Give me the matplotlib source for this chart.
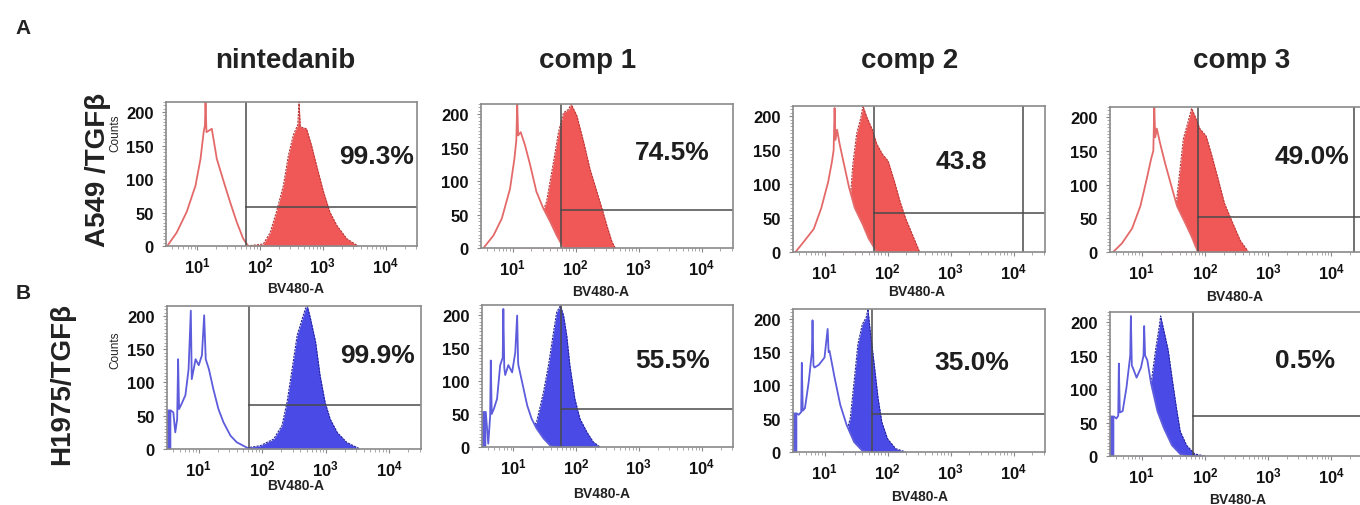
import numpy as np
import matplotlib
matplotlib.use("Agg")
import matplotlib.pyplot as plt
from matplotlib.ticker import FixedLocator, FixedFormatter, MultipleLocator, NullFormatter

plt.rcParams['font.family'] = ['Liberation Sans', 'DejaVu Sans']
plt.rcParams['mathtext.fontset'] = 'custom'
plt.rcParams['mathtext.rm'] = 'Liberation Sans:bold'
plt.rcParams['mathtext.bf'] = 'Liberation Sans:bold'
plt.rcParams['mathtext.it'] = 'Liberation Sans:bold'

# ---- data: (log10 BV480-A intensity, counts) ----
columns = ['nintedanib', 'comp 1', 'comp 2', 'comp 3']
rows = ['A549 /TGF\u03b2', 'H1975/TGF\u03b2']
percent_labels = [['99.3%', '74.5%', '43.8', '49.0%'],
                  ['99.9%', '55.5%', '35.0%', '0.5%']]
gate_x = [[1.78, 1.77, 1.78, 1.89], [1.79, 1.76, 1.75, 1.81]]   # log10
gate_y = [[58, 56, 57, 52], [66, 58, 57, 60]]
gate_right = [[None, None, 4.15, 4.36], [None, None, None, None]]

a549_nint_ctrl = [(0.52, 0), (0.67, 20), (0.83, 51), (0.97, 90), (1.05, 130), (1.10, 170), (1.12, 180),
                  (1.13, 215), (1.145, 170), (1.18, 172), (1.23, 175), (1.31, 130), (1.42, 96),
                  (1.52, 66), (1.63, 35), (1.73, 11), (1.81, 0)]
a549_nint_trt = [(1.79, 0), (2.05, 3), (2.16, 20), (2.26, 51), (2.37, 90), (2.45, 135), (2.53, 166),
                 (2.60, 181), (2.62, 215), (2.64, 178), (2.74, 175), (2.82, 150), (2.90, 120),
                 (3.01, 81), (3.11, 51), (3.22, 31), (3.38, 11), (3.56, 0)]
a549_c1_ctrl = [(0.54, 0), (0.70, 19), (0.83, 44), (0.96, 88), (1.03, 133), (1.06, 160), (1.075, 215),
                (1.09, 168), (1.13, 173), (1.20, 153), (1.28, 124), (1.38, 84), (1.49, 59),
                (1.60, 39), (1.70, 19), (1.81, 0)]
a549_c1_trt = [(1.01, 0), (1.28, 19), (1.44, 44), (1.54, 69), (1.65, 128), (1.73, 173), (1.81, 202),
               (1.89, 207), (1.93, 215), (2.02, 198), (2.13, 158), (2.23, 118), (2.34, 84),
               (2.42, 59), (2.50, 33), (2.58, 9), (2.63, 0)]
a549_c2_ctrl = [(0.54, 0), (0.67, 15), (0.83, 34), (0.95, 65), (1.06, 104), (1.12, 134), (1.145, 150),
                (1.16, 212), (1.175, 165), (1.20, 180), (1.24, 159), (1.31, 129), (1.39, 95),
                (1.48, 65), (1.61, 40), (1.70, 20), (1.83, 0)]
a549_c2_trt = [(0.98, 0), (1.23, 30), (1.39, 55), (1.45, 129), (1.51, 174), (1.58, 199), (1.61, 215),
               (1.67, 199), (1.76, 180), (1.83, 159), (1.92, 144), (2.01, 134), (2.11, 104),
               (2.20, 74), (2.29, 49), (2.42, 20), (2.51, 0)]
a549_c3_ctrl = [(0.55, 0), (0.69, 13), (0.85, 35), (0.98, 68), (1.08, 108), (1.15, 138), (1.185, 150),
                (1.20, 215), (1.215, 170), (1.24, 183), (1.29, 162), (1.37, 132), (1.47, 98),
                (1.56, 68), (1.69, 43), (1.79, 23), (1.89, 0)]
a549_c3_trt = [(1.08, 0), (1.40, 28), (1.53, 57), (1.60, 117), (1.66, 168), (1.76, 202), (1.79, 213),
               (1.85, 200), (1.92, 183), (2.02, 172), (2.11, 143), (2.21, 108), (2.31, 72),
               (2.44, 43), (2.56, 17), (2.69, 0)]

h1975_nint_ctrl = [(0.50, 0), (0.505, 58), (0.56, 58), (0.60, 55), (0.63, 25), (0.66, 45), (0.675, 135),
                   (0.69, 60), (0.74, 70), (0.79, 81), (0.84, 120), (0.875, 208), (0.89, 105),
                   (0.95, 135), (1.00, 126), (1.05, 141), (1.085, 201), (1.11, 135), (1.16, 120),
                   (1.23, 90), (1.31, 60), (1.39, 40), (1.50, 20), (1.60, 10), (1.76, 2), (1.97, 0)]
h1975_nint_trt = [(1.65, 0), (1.97, 5), (2.18, 15), (2.31, 35), (2.39, 70), (2.47, 120), (2.55, 171),
                  (2.63, 196), (2.68, 211), (2.71, 215), (2.76, 196), (2.84, 161), (2.91, 111),
                  (2.99, 70), (3.07, 45), (3.18, 25), (3.33, 10), (3.54, 0)]
h1975_c1_ctrl = [(0.50, 0), (0.505, 53), (0.56, 53), (0.60, 5), (0.63, 47), (0.64, 131), (0.655, 50),
                 (0.69, 58), (0.74, 73), (0.79, 124), (0.83, 135), (0.84, 209), (0.855, 120),
                 (0.87, 109), (0.92, 124), (0.98, 113), (1.03, 143), (1.06, 199), (1.075, 130),
                 (1.08, 124), (1.14, 98), (1.22, 63), (1.29, 43), (1.37, 28), (1.48, 13),
                 (1.59, 2), (1.69, 0)]
h1975_c1_trt = [(1.11, 0), (1.27, 23), (1.37, 38), (1.48, 83), (1.56, 124), (1.64, 174), (1.69, 204),
                (1.75, 214), (1.80, 199), (1.85, 169), (1.90, 124), (1.98, 73), (2.06, 43),
                (2.17, 23), (2.27, 8), (2.38, 0)]
h1975_c2_ctrl = [(0.50, 0), (0.505, 58), (0.56, 58), (0.59, 56), (0.63, 60), (0.64, 134), (0.655, 62),
                 (0.69, 66), (0.75, 106), (0.80, 150), (0.81, 198), (0.825, 130), (0.84, 127),
                 (0.91, 131), (1.00, 142), (1.05, 185), (1.065, 150), (1.08, 152), (1.16, 112),
                 (1.25, 71), (1.35, 41), (1.47, 15), (1.60, 2), (1.72, 0)]
h1975_c2_trt = [(1.16, 0), (1.32, 20), (1.41, 51), (1.47, 106), (1.53, 162), (1.60, 192), (1.66, 202),
                (1.69, 215), (1.72, 187), (1.79, 131), (1.85, 81), (1.91, 45), (2.00, 20),
                (2.13, 5), (2.29, 0)]
h1975_c3_ctrl = [(0.50, 0), (0.505, 59), (0.56, 59), (0.60, 56), (0.63, 60), (0.64, 138), (0.655, 65),
                 (0.70, 67), (0.76, 102), (0.82, 150), (0.83, 209), (0.845, 135), (0.86, 132),
                 (0.92, 117), (0.99, 132), (1.03, 150), (1.04, 194), (1.055, 150), (1.09, 143),
                 (1.15, 108), (1.25, 67), (1.35, 42), (1.48, 16), (1.61, 3), (1.74, 0)]
h1975_c3_trt = [(0.89, 0), (1.09, 31), (1.15, 108), (1.22, 158), (1.28, 194), (1.30, 209), (1.35, 188),
                (1.42, 158), (1.48, 117), (1.55, 72), (1.61, 37), (1.71, 16), (1.84, 3), (2.00, 0)]

curves = [[(a549_nint_ctrl, a549_nint_trt), (a549_c1_ctrl, a549_c1_trt),
           (a549_c2_ctrl, a549_c2_trt), (a549_c3_ctrl, a549_c3_trt)],
          [(h1975_nint_ctrl, h1975_nint_trt), (h1975_c1_ctrl, h1975_c1_trt),
           (h1975_c2_ctrl, h1975_c2_trt), (h1975_c3_ctrl, h1975_c3_trt)]]

# ---- layout (pixels in the 1360x506 canvas) ----
W, H = 1360, 506
boxes = [[(166, 417, 103, 247), (481, 733, 105, 249), (793, 1045, 107, 253), (1110, 1363, 108, 253)],
         [(167, 421, 307, 450), (482, 733, 306, 448), (793, 1045, 310, 453), (1110, 1363, 313, 457)]]
pct_pos = [[(0.84, 0.625), (0.76, 0.67), (0.67, 0.62), (0.80, 0.66)],
           [(0.83, 0.66), (0.76, 0.61), (0.71, 0.63), (0.77, 0.67)]]
xlab_pos = [[(296, 289), (601, 292), (917, 292), (1235, 297)],
            [(296, 486), (602, 494), (920, 497), (1238, 500)]]
colors = [dict(fill='#f05858', edge='#b83838', line='#e46a6a'),
          dict(fill='#4a4ae6', edge='#24249a', line='#5c5cdc')]

fig = plt.figure(figsize=(W / 100, H / 100), dpi=100)


def fx(x, y):
    return x / W, 1 - y / H


for r in range(2):
    for c in range(4):
        l, rt, t, b = boxes[r][c]
        ax = fig.add_axes([l / W, 1 - b / H, (rt - l) / W, (b - t) / H])
        ax.set_xscale('log')
        ctrl, trt = curves[r][c]
        cx = 10 ** np.array([p[0] for p in ctrl])
        cy = np.array([p[1] for p in ctrl])
        tx = 10 ** np.array([p[0] for p in trt])
        ty = np.array([p[1] for p in trt])
        col = colors[r]
        ax.fill_between(tx, ty, color=col['fill'], lw=0, zorder=1)
        ax.plot(tx, ty, color=col['edge'], lw=0.8, ls=(0, (2, 1)), zorder=2)
        ax.fill_between(cx, cy, color='white', lw=0, zorder=3)
        # pile-up of events at the low edge of the scale
        ax.fill_between(cx, cy, where=cx <= 10 ** 0.56, color=col['line'], lw=0, zorder=3.5)
        ax.plot(cx, cy, color=col['line'], lw=1.3, zorder=4)

        # gate
        gx = 10 ** gate_x[r][c]
        ax.axvline(gx, color='#4a4a4a', lw=1.1, zorder=5)
        ax.plot([gx, 10 ** 6], [gate_y[r][c]] * 2, color='#4a4a4a', lw=1.1, zorder=5)
        if gate_right[r][c] is not None:
            ax.axvline(10 ** gate_right[r][c], color='#4a4a4a', lw=1.1, zorder=5)

        xmax = 0.5 + 4.0 * (rt - l) / 253 if c == 3 else 4.5
        ax.set_xlim(10 ** 0.5, 10 ** xmax)
        ax.set_ylim(0, 215)

        ax.xaxis.set_major_locator(FixedLocator([10, 100, 1000, 10000]))
        ax.xaxis.set_major_formatter(FixedFormatter(
            [r'$\mathbf{10^{1}}$', r'$\mathbf{10^{2}}$', r'$\mathbf{10^{3}}$', r'$\mathbf{10^{4}}$']))
        minors = [m * 10 ** d for d in range(0, 5) for m in range(2, 10)]
        ax.xaxis.set_minor_locator(FixedLocator(minors))
        ax.xaxis.set_minor_formatter(NullFormatter())
        ax.yaxis.set_major_locator(FixedLocator([0, 50, 100, 150, 200]))
        ax.yaxis.set_minor_locator(MultipleLocator(5))
        for lab in ax.get_yticklabels():
            lab.set_fontweight('bold')
        ax.tick_params(axis='x', which='major', pad=4)
        ax.tick_params(axis='y', which='major', pad=6)
        ax.tick_params(axis='both', which='major', labelsize=12, length=3, width=0.8,
                       color='#888888', labelcolor='#111111')
        ax.tick_params(axis='both', which='minor', length=2, width=0.6, color='#999999')
        for s in ax.spines.values():
            s.set_color('#8a8a8a')
            s.set_linewidth(1.2)
            s.set_zorder(6)

        px, py = pct_pos[r][c]
        ax.text(px, py, percent_labels[r][c], transform=ax.transAxes, ha='center', va='center',
                fontsize=19, fontweight='bold', color='#1e1e1e', zorder=7)

        x0, y0 = fx(*xlab_pos[r][c])
        fig.text(x0, y0, 'BV480-A', ha='center', va='center', fontsize=10, fontweight='bold',
                 color='#222222')

# column titles
for name, x in zip(columns, [285, 588, 910, 1242]):
    fig.text(*fx(x, 61), name, ha='center', va='center', fontsize=20, fontweight='bold', color='#222222')

# row labels
fig.text(*fx(98, 170), rows[0], rotation=90, ha='center', va='center', fontsize=20,
         fontweight='bold', color='#222222')
fig.text(*fx(62, 384), rows[1], rotation=90, ha='center', va='center', fontsize=20,
         fontweight='bold', color='#222222')
fig.text(*fx(115, 133), 'Counts', rotation=90, ha='center', va='center', fontsize=8.5, color='#222222')
fig.text(*fx(115, 350), 'Counts', rotation=90, ha='center', va='center', fontsize=8.5, color='#222222')

fig.text(*fx(23, 29), 'A', ha='center', va='center', fontsize=15, fontweight='bold', color='#222222')
fig.text(*fx(23, 294), 'B', ha='center', va='center', fontsize=15, fontweight='bold', color='#222222')

fig.savefig('out.png', dpi=100)
